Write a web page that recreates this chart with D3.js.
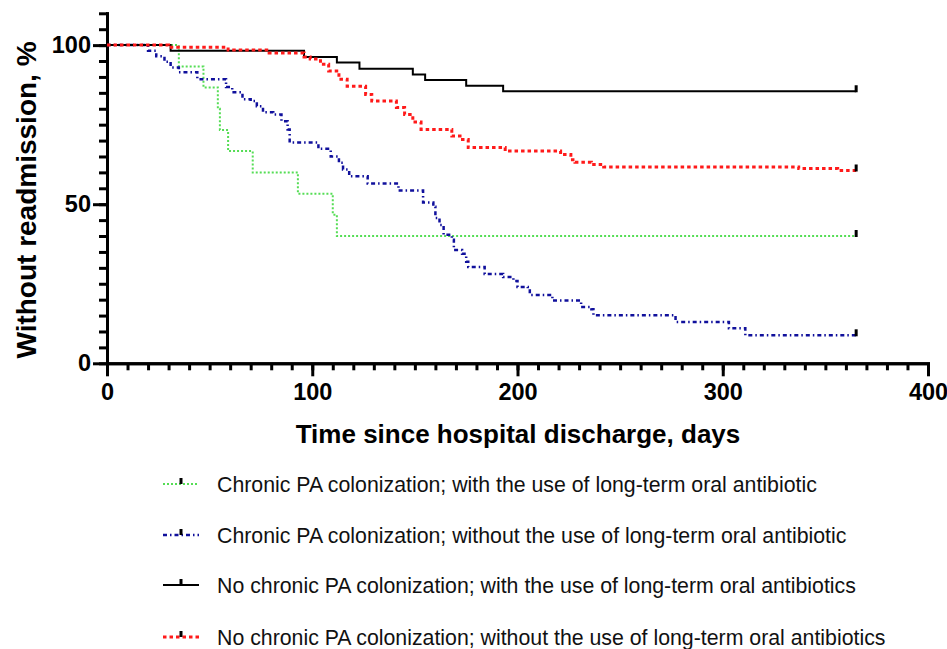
<!DOCTYPE html>
<html lang="en">
<head>
    <meta charset="UTF-8">
    <title>Readmission-free survival</title>
    <style>
        body {
            margin: 0;
            background-color: #ffffff;
            font-family: "Liberation Sans", Arial, sans-serif;
        }
        svg { display: block; }
        .axis path, .axis line { stroke: #000; stroke-width: 3; }
        .axis text { font-family: "Liberation Sans", Arial, sans-serif; font-weight: bold; font-size: 23.5px; fill: #000; }
    </style>
</head>
<body>
    <svg width="947" height="649"></svg>

    <script src="https://d3js.org/d3.v7.min.js"></script>
    <script>
        // Kaplan-Meier steps: [day, % without readmission]
        const paWithAb = [
            [0, 100], [35, 93.3], [47, 86.7], [54, 80], [55, 73.3], [59, 66.7],
            [71, 60], [93, 53.3], [110, 46.7], [112, 40], [365, 40]
        ];
        const paWithoutAb = [
            [0, 100], [20, 98.2], [24, 96.5], [28, 94.8], [31, 93.0], [35, 91.5],
            [44, 89.3], [58, 86.8], [61, 85.2], [66, 83.0], [70, 82.4], [73, 80.8],
            [76, 78.9], [81, 78.2], [85, 76.1], [88, 73.5], [89, 69.4], [103, 67.4],
            [109, 65.0], [113, 63.0], [115, 60.9], [118, 58.8], [127, 56.5], [142, 54.3],
            [154, 50.5], [159, 49.2], [160, 45.7], [162, 43.5], [164, 40.4], [168, 38.8],
            [169, 35.6], [173, 34.4], [175, 31.9], [176, 30.3], [184, 28.1], [193, 27.1],
            [198, 25.9], [200, 24.0], [205, 23.3], [206, 21.5], [217, 19.7], [231, 17.7],
            [236, 17.0], [237, 15.1], [277, 13.0], [303, 11.0], [311, 8.8], [365, 8.8]
        ];
        const noPaWithAb = [
            [0, 100], [31, 98.2], [96, 96.3], [112, 94.5], [123, 92.6], [149, 90.8],
            [155, 89.0], [175, 87.2], [193, 85.5], [365, 85.5]
        ];
        const noPaWithoutAb = [
            [0, 100], [30, 99.3], [59, 98.5], [79, 97.5], [96, 96.3], [99, 95.6],
            [104, 94.0], [108, 91.9], [113, 89.3], [117, 87.1], [126, 84.5], [129, 82.4],
            [141, 80.4], [145, 78.2], [149, 75.8], [153, 73.5], [168, 71.4], [172, 70.3],
            [176, 67.8], [194, 66.7], [221, 65.6], [226, 64.0], [228, 63.2], [236, 62.5],
            [242, 61.7], [337, 61.2], [356, 60.6], [365, 60.6]
        ];

        const seriesNames = [
            "Chronic PA colonization; with the use of long-term oral antibiotic",
            "Chronic PA colonization; without the use of long-term oral antibiotic",
            "No chronic PA colonization; with the use of long-term oral antibiotics",
            "No chronic PA colonization; without the use of long-term oral antibiotics"
        ];
        const seriesData = [paWithAb, paWithoutAb, noPaWithAb, noPaWithoutAb];

        const xMajorTicks = [0, 100, 200, 300, 400];
        const yMajorTicks = [0, 50, 100];

        // line looks for each group
        const styles = [
            { color: "#55dd55", width: 2, dash: "2,2" },
            { color: "#10109c", width: 2.5, dash: "4,3,1.5,3" },
            { color: "#000000", width: 2, dash: null },
            { color: "#ff1a1a", width: 3, dash: "3.5,3" }
        ];

        const svg = d3.select("svg");

        const x = d3.scaleLinear().domain([0, 400]).range([107, 928]);
        const y = d3.scaleLinear().domain([0, 110]).range([363.3, 13.3]);

        // X axis: minor every 10 days, major every 100
        svg.append("g")
            .attr("class", "axis")
            .attr("transform", `translate(0,${y(0)})`)
            .call(d3.axisBottom(x).tickValues(d3.range(0, 401, 10)).tickSize(7).tickSizeOuter(0).tickFormat(""));
        svg.append("g")
            .attr("class", "axis")
            .attr("transform", `translate(0,${y(0)})`)
            .call(d3.axisBottom(x).tickValues(xMajorTicks).tickSize(13).tickSizeOuter(0).tickPadding(7));

        // Y axis: minor every 5 %, major every 50
        svg.append("g")
            .attr("class", "axis")
            .attr("transform", `translate(${x(0)},0)`)
            .call(d3.axisLeft(y).tickValues(d3.range(0, 111, 5)).tickSize(8).tickSizeOuter(0).tickFormat(""));
        svg.append("g")
            .attr("class", "axis")
            .attr("transform", `translate(${x(0)},0)`)
            .call(d3.axisLeft(y).tickValues(yMajorTicks).tickSize(14).tickSizeOuter(0).tickPadding(2));

        svg.selectAll(".axis path.domain").attr("stroke-linecap", "square");

        // Survival curves
        const line = d3.line()
            .x(d => x(d[0]))
            .y(d => y(d[1]))
            .curve(d3.curveStepAfter);

        seriesData.forEach((data, i) => {
            const s = styles[i];
            svg.append("path")
                .datum(data)
                .attr("fill", "none")
                .attr("stroke", s.color)
                .attr("stroke-width", s.width)
                .attr("stroke-dasharray", s.dash)
                .attr("d", line);

            // censor mark at the end of follow-up
            const last = data[data.length - 1];
            svg.append("line")
                .attr("x1", x(last[0])).attr("x2", x(last[0]))
                .attr("y1", y(last[1]) - 6).attr("y2", y(last[1]) + 1)
                .attr("stroke", "#000")
                .attr("stroke-width", 3);
        });

        // Axis titles
        svg.append("text")
            .attr("x", 518)
            .attr("y", 443)
            .attr("text-anchor", "middle")
            .attr("font-weight", "bold")
            .attr("font-size", 26)
            .text("Time since hospital discharge, days");

        svg.append("text")
            .attr("transform", "translate(36,200) rotate(-90)")
            .attr("text-anchor", "middle")
            .attr("font-weight", "bold")
            .attr("font-size", 28)
            .text("Without readmission, %");

        // Legend
        const legendBaselines = [492, 543, 593, 645];
        const legend = svg.selectAll(".legend-item")
            .data(seriesNames)
            .join("g")
            .attr("class", "legend-item")
            .attr("transform", (d, i) => `translate(0,${legendBaselines[i]})`);

        legend.append("line")
            .attr("x1", 163).attr("x2", 199)
            .attr("y1", -8).attr("y2", -8)
            .attr("stroke", (d, i) => styles[i].color)
            .attr("stroke-width", (d, i) => styles[i].width)
            .attr("stroke-dasharray", (d, i) => styles[i].dash);

        legend.append("line")
            .attr("x1", 181).attr("x2", 181)
            .attr("y1", -14).attr("y2", -8)
            .attr("stroke", "#000")
            .attr("stroke-width", 3);

        legend.append("text")
            .attr("x", 217)
            .attr("y", 0)
            .attr("font-size", 21.3)
            .attr("fill", "#111")
            .text(d => d);
    </script>
</body>
</html>
